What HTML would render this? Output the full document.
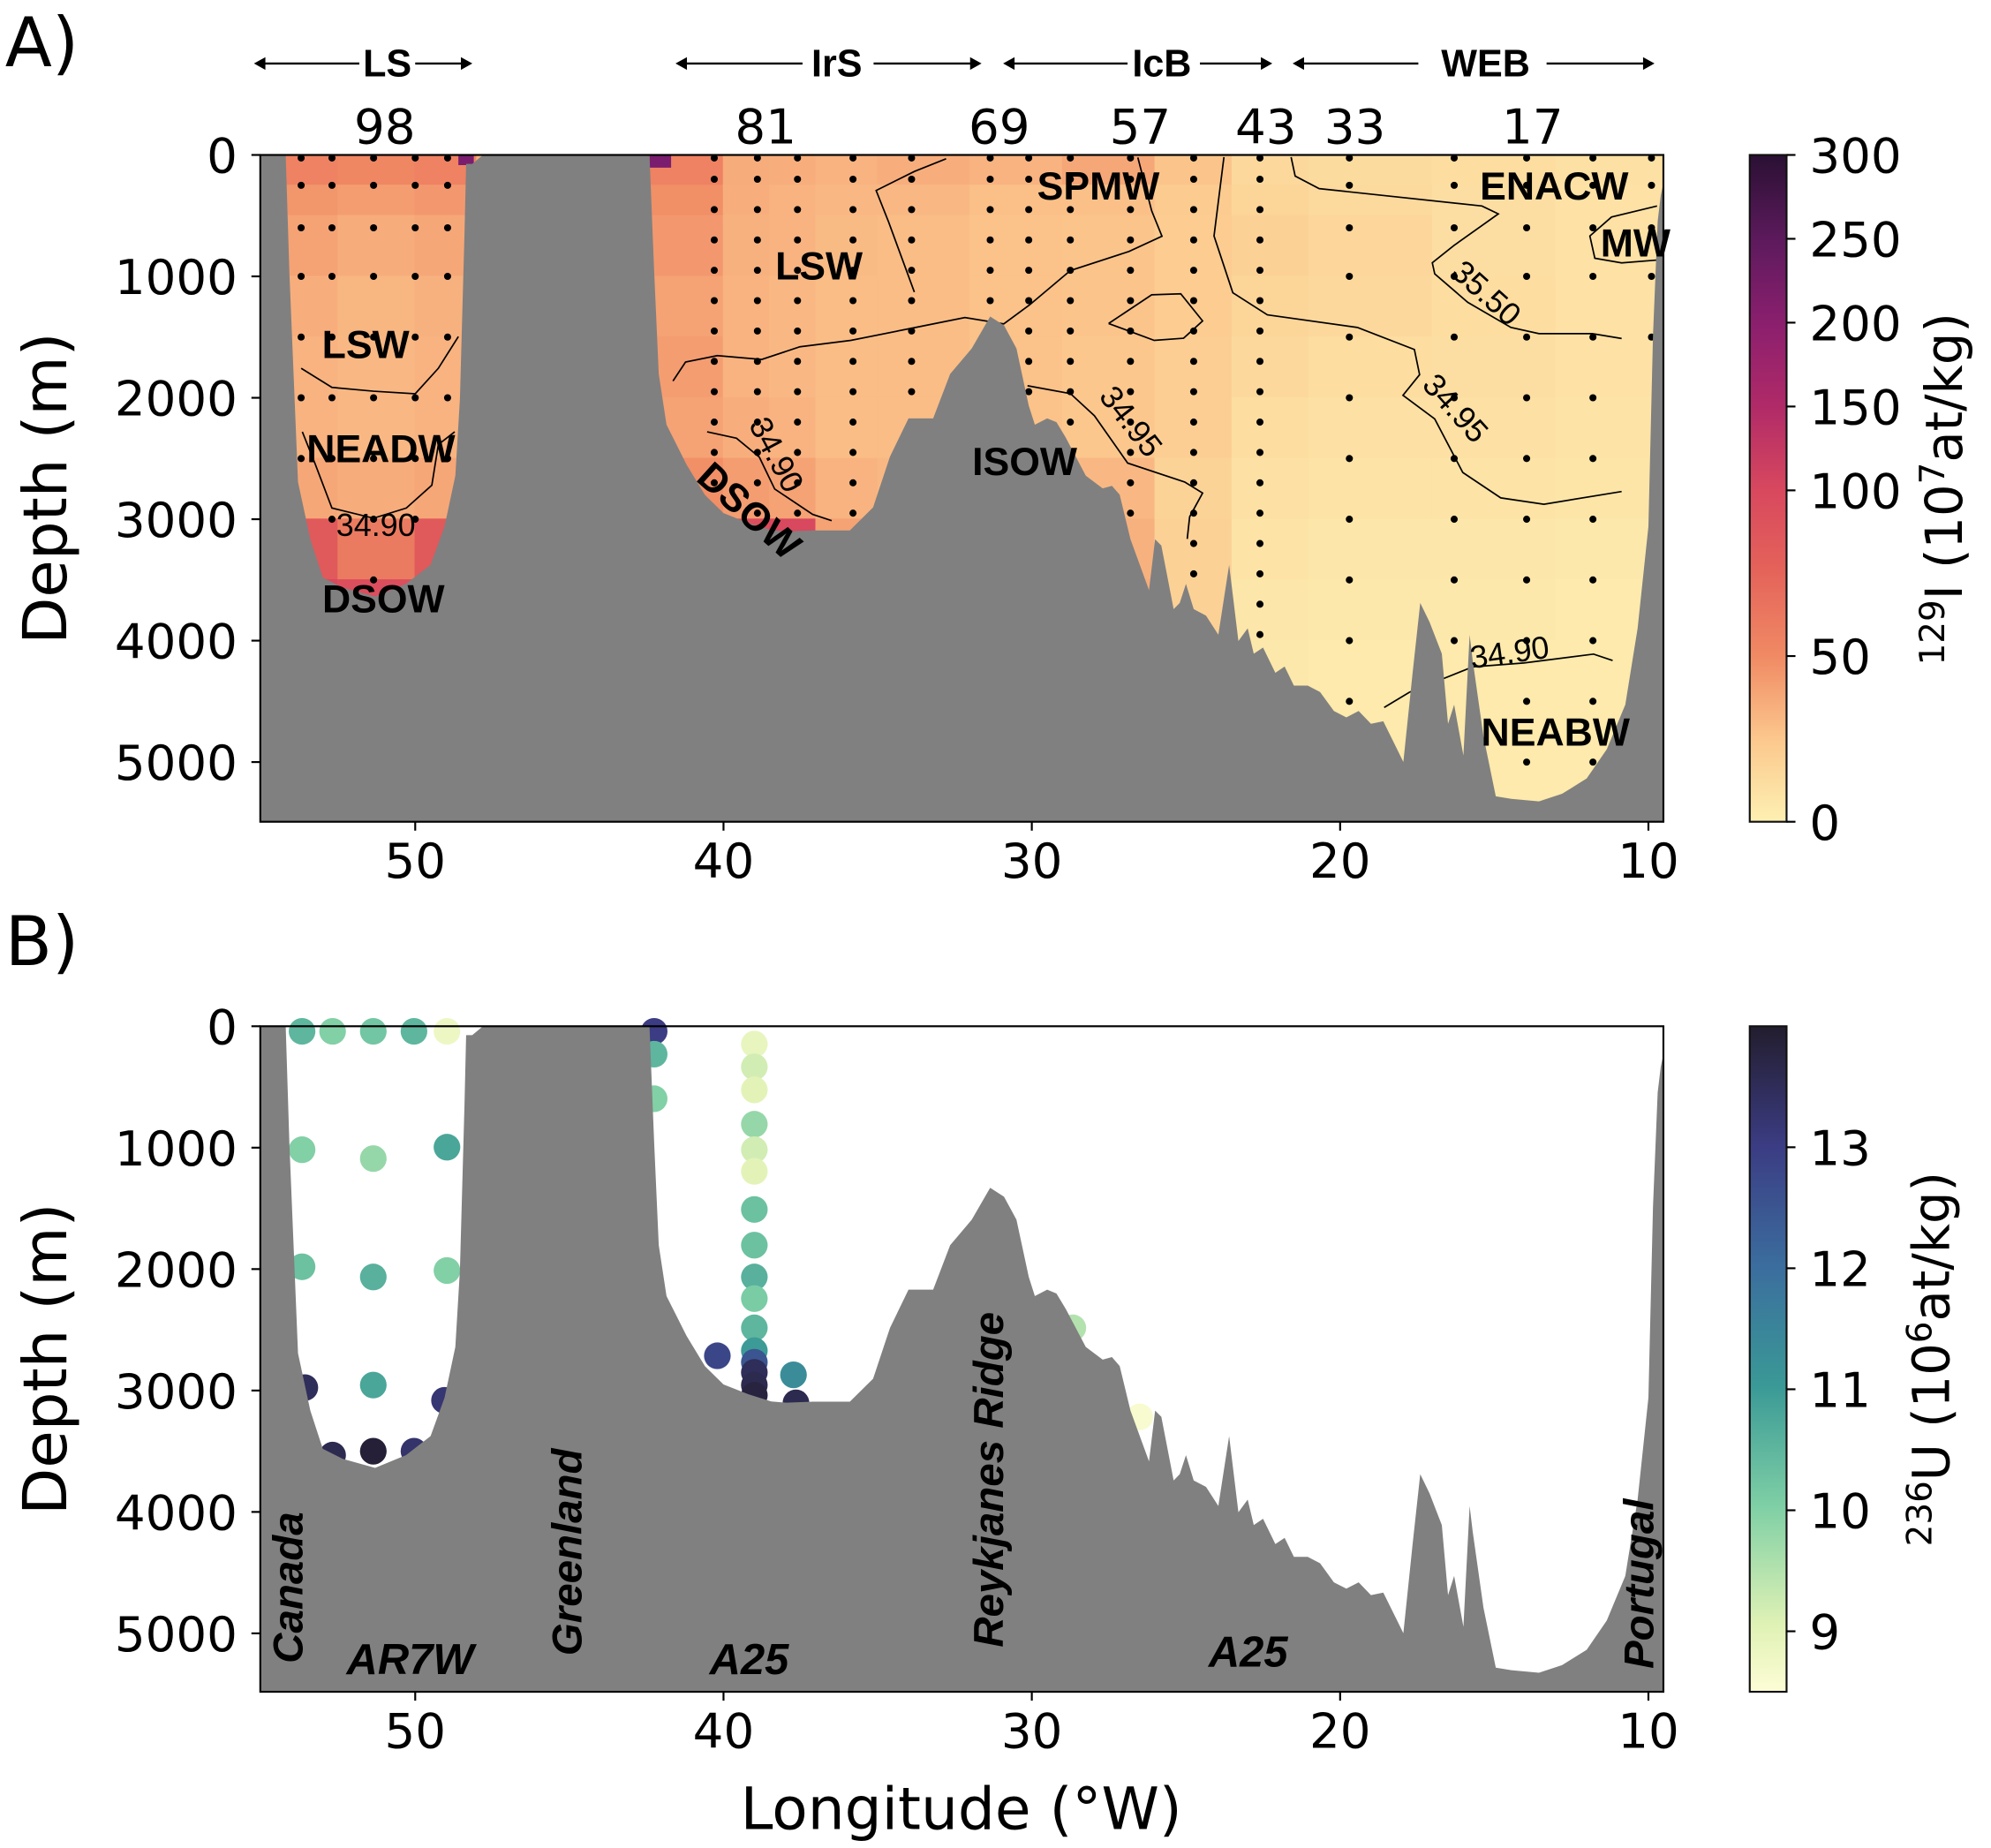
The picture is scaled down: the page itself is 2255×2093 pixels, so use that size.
<!DOCTYPE html>
<html><head><meta charset="utf-8"><style>
html,body{margin:0;padding:0;background:#fff;}
svg{display:block;}
text{font-family:"DejaVu Sans","Liberation Sans",sans-serif;}
.ar{font-family:"Liberation Sans",sans-serif;}
</style></head><body>
<svg id="fig" xmlns="http://www.w3.org/2000/svg" width="2255" height="2093" viewBox="0 0 1568 1455" preserveAspectRatio="none">
<defs>
<linearGradient id="gA" x1="0" y1="1" x2="0" y2="0">
<stop offset="0" stop-color="#fdf0b2"/><stop offset="0.12" stop-color="#fcc98e"/><stop offset="0.248" stop-color="#f08a64"/><stop offset="0.38" stop-color="#e4625a"/><stop offset="0.497" stop-color="#d8485e"/><stop offset="0.623" stop-color="#b02a68"/><stop offset="0.749" stop-color="#8a1f6e"/><stop offset="0.874" stop-color="#5c1a5c"/><stop offset="1" stop-color="#2a1033"/>
</linearGradient>
<linearGradient id="gB" x1="0" y1="1" x2="0" y2="0">
<stop offset="0" stop-color="#fdfdd5"/><stop offset="0.1" stop-color="#e0f2b5"/><stop offset="0.28" stop-color="#7ecfa5"/><stop offset="0.46" stop-color="#3a9996"/><stop offset="0.64" stop-color="#3b6d9e"/><stop offset="0.82" stop-color="#3b3c83"/><stop offset="1" stop-color="#231d2e"/>
</linearGradient>
</defs>
</svg>
<script>
// ---------- data ----------
const bathyLon=[55.2,55.0,54.2,54.08,53.8,53.4,53.0,52.35,51.3,50.3,49.5,49.05,48.7,48.55,48.4,48.35,48.15,47.8,42.45,42.4,42.25,42.1,41.85,41.2,40.6,40.0,39.2,38.45,37.95,37.1,35.9,35.15,34.6,34.0,33.2,32.65,31.95,31.35,30.9,30.5,30.1,29.9,29.5,29.2,28.9,28.25,27.7,27.4,27.15,26.8,26.2,26.0,25.8,25.4,25.2,25.0,24.75,24.35,23.95,23.6,23.3,23.0,22.8,22.5,22.1,21.8,21.5,21.05,20.65,20.2,19.8,19.4,19.0,18.6,18.15,17.95,17.65,17.4,17.1,16.7,16.5,16.3,16.0,15.8,15.7,15.35,14.95,14.45,13.55,12.8,12.0,11.35,10.75,10.35,10.0,9.85,9.7,9.6,9.5,9.3];
const bathyDepth=[0,0,0,964,2693,3165,3480,3563,3637,3532,3375,3060,2641,2012,650,73,73,0,0,0,964,1803,2222,2550,2800,2950,3030,3090,3100,3092,3092,2903,2484,2169,2169,1803,1593,1331,1404,1593,2065,2222,2169,2201,2327,2641,2746,2725,2798,3165,3584,3165,3217,3741,3689,3532,3741,3794,3951,3375,4003,3899,4108,4056,4265,4213,4370,4370,4423,4580,4632,4580,4685,4664,4894,4999,4265,3689,3846,4108,4685,4527,4947,3951,4161,4789,5282,5303,5324,5261,5135,4894,4527,3899,3060,1488,545,335,231,231];
const lonTicks=[50,40,30,20,10];
const depthTicks=[0,1000,2000,3000,4000,5000];
const cbATicks=[0,50,100,150,200,250,300];
const cbBTicks=[9,10,11,12,13];
// 129I grid
const gridLonEdges=[55,52.5,50,48,42.5,40,38.5,37,35,32,29,26,23.5,21,17,13,9.5];
const gridDepthEdges=[0,250,500,1000,1500,2000,2500,3000,3500,4000,4500,5000,5500];
const iodine=[
[55,45,40,35,33,33,38,85,100,100,100,100],
[52,42,36,32,31,31,36,60,95,100,100,100],
[55,44,38,34,33,33,38,85,100,100,100,100],
[35,35,35,35,35,35,35,35,35,35,35,35],
[55,48,44,40,42,40,48,95,110,110,110,110],
[36,35,34,33,33,35,42,95,110,110,110,110],
[35,33,33,31,31,33,40,100,110,110,110,110],
[33,31,30,29,29,29,33,40,40,40,40,40],
[35,31,29,29,29,29,31,36,36,36,36,36],
[33,28,27,27,27,27,31,36,36,36,36,36],
[38,28,26,26,25,25,31,34,36,36,36,36],
[26,23,22,22,21,21,18,19,19,18,18,18],
[15,17,19,17,15,12,10,8,6,5,5,5],
[13,14,16,15,12,10,8,6,5,4,4,4],
[12,11,11,12,11,10,8,6,5,4,4,4],
[10,9,9,9,9,8,7,5,4,4,4,4]];
const stnLons=[53.7,52.7,51.35,50,48.95,40.3,38.9,37.6,35.8,33.9,31.35,30.1,28.75,26.8,24.75,22.6,19.7,16.3,13.95,11.8,9.9];
const stnDense=[0,0,0,0,0,1,1,1,1,1,1,1,1,1,1,1,0,0,0,0,0];
const sparseDepths=[25,250,600,1000,1500,2000,2500,3000,3500,4000,4500,5000];
const denseDepths=[25,200,450,700,950,1200,1450,1700,1950,2200,2450,2700,2950,3200,3450,3700,3950,4200,4450,4700];
const contours=[
 {lon:[53.7,52.7,51.35,50,49.25,48.6],dep:[1757,1914,1946,1967,1757,1496]},
 {lon:[53.66,53.25,52.7,51.35,50.29,49.46,49.25,48.72],dep:[2280,2542,2908,2992,2908,2720,2385,2280]},
 {lon:[41.64,41.23,40.2,38.76,37.52,35.87,33.81,32.17,30.91,30.07,28.75,26.85,25.78,26.11,26.56],dep:[1862,1705,1653,1684,1579,1527,1423,1339,1391,1234,952,795,669,460,21]},
 {lon:[33.81,34.64,35.05,33.81,32.78],dep:[1130,554,293,136,31]},
 {lon:[40.53,39.58,38.84,38.34,37.11,36.49],dep:[2280,2333,2489,2751,2960,3012]},
 {lon:[23.77,24.09,23.48,22.36,19.44,17.59,17.42,17.96,16.93,16.02,14.79,13.39,10.87],dep:[18,667,1135,1317,1420,1602,1810,1979,2174,2615,2824,2877,2772]},
 {lon:[21.59,21.46,20.68,15.4,14.87,16.31,17.01,16.93,15.86,14.46,13.55,11.82,10.87],dep:[18,174,277,420,485,746,888,979,1213,1420,1472,1472,1511]},
 {lon:[30.14,28.75,27.97,26.89,25.04,24.46,24.88,24.96],dep:[1901,1966,2148,2538,2693,2784,2980,3162]},
 {lon:[9.72,11.2,11.9,11.74,10.87,9.64],dep:[420,511,667,850,889,864]},
 {lon:[27.51,26.11,25.17,24.46,25.08,26.03,27.51],dep:[1388,1152,1143,1367,1509,1527,1388]},
 {lon:[18.57,17.75,15.69,14.04,11.78,11.16],dep:[4550,4425,4215,4184,4111,4163]}];
// 236U samples
const uLon=[53.67,52.68,51.36,50.04,48.97,53.67,51.36,48.97,53.67,51.36,48.97,53.58,51.36,49.05,52.68,51.36,50.04,42.25,42.25,42.25,39.0,39.0,39.0,39.0,39.0,39.0,39.0,39.0,39.0,39.0,39.0,39.0,39.0,39.0,39.0,39.0,40.2,37.73,37.65,28.67,26.5];
const uDepth=[42,42,42,42,42,1017,1090,996,1981,2065,2012,2976,2955,3081,3532,3500,3500,42,230,597,147,335,524,807,1017,1195,1509,1803,2065,2243,2484,2672,2767,2851,2955,3039,2714,2871,3102,2484,3217];
const uVal=[10.5,10.0,10.2,10.5,8.8,10.0,9.8,10.8,10.3,10.6,10.0,13.5,10.8,13.2,13.6,13.9,13.3,13.0,10.5,10.0,8.9,9.2,9.0,9.8,9.2,9.0,10.3,10.3,10.6,10.1,10.5,11.0,12.5,13.5,13.6,13.8,12.8,11.3,13.6,9.5,8.6];

// ---------- helpers ----------
const NS='http://www.w3.org/2000/svg';
const svg=document.getElementById('fig');
function mk(tag,attrs,parent){const e=document.createElementNS(NS,tag);for(const k in attrs)e.setAttribute(k,attrs[k]);(parent||svg).appendChild(e);return e;}
const X0=205,X1=1310;
const xs=lon=>327+(50-lon)*24.28;
function ysFor(top){return d=>top+d*0.0956;}
function lerpHex(a,b,t){const pa=[1,3,5].map(i=>parseInt(a.substr(i,2),16)),pb=[1,3,5].map(i=>parseInt(b.substr(i,2),16));return 'rgb('+pa.map((v,i)=>Math.round(v+(pb[i]-v)*t)).join(',')+')';}
function cmap(stops,t){t=Math.max(0,Math.min(1,t));for(let i=1;i<stops.length;i++){if(t<=stops[i][0]){const f=(t-stops[i-1][0])/(stops[i][0]-stops[i-1][0]);return lerpHex(stops[i-1][1],stops[i][1],f);}}return stops[stops.length-1][1];}
const stopsA=[[0,'#fdf0b2'],[0.12,'#fcc98e'],[0.248,'#f08a64'],[0.38,'#e4625a'],[0.497,'#d8485e'],[0.623,'#b02a68'],[0.749,'#8a1f6e'],[0.874,'#5c1a5c'],[1,'#2a1033']];
const stopsB=[[0,'#fdfdd5'],[0.1,'#e0f2b5'],[0.28,'#7ecfa5'],[0.46,'#3a9996'],[0.64,'#3b6d9e'],[0.82,'#3b3c83'],[1,'#231d2e']];
const normA=v=>v<=100?v/100*0.497:0.497+(v-100)/200*0.503;
const normB=v=>(v-8.5)/(14-8.5);
function bathyPath(ys,bottom){let d='M'+X0+','+bottom;bathyLon.forEach((l,i)=>{d+=' L'+Math.max(X0,Math.min(X1,xs(l))).toFixed(1)+','+ys(bathyDepth[i]).toFixed(1);});d+=' L'+X1+','+bottom+' Z';return d;}
function txt(s,attrs,parent){const t=mk('text',attrs,parent);t.textContent=s;return t;}

function axes(top,bottom,g){
  const ys=ysFor(top);
  lonTicks.forEach(v=>{
    const l=mk('line',{x1:xs(v),x2:xs(v),y1:bottom,y2:bottom+7,stroke:'#000','stroke-width':1.5},g);
    
    const t=txt(String(v),{x:xs(v),y:bottom+44,'font-size':38,'text-anchor':'middle'},g);
    
  });
  depthTicks.forEach(v=>{
    const l=mk('line',{x1:X0-7,x2:X0,y1:ys(v),y2:ys(v),stroke:'#000','stroke-width':1.5},g);
    
    const t=txt(String(v),{x:X0-18,y:ys(v)+14,'font-size':38,'text-anchor':'end'},g);
    
  });
  const r=mk('rect',{x:X0,y:top,width:X1-X0,height:bottom-top,fill:'none',stroke:'#000','stroke-width':1.5},g);
  
  const yl=txt('Depth (m)',{x:0,y:0,'font-size':48,'text-anchor':'middle',transform:'translate(52,'+((top+bottom)/2)+') rotate(-90)'},g);
  
}

// ---------- Panel A ----------
(function(){
  const top=122,bottom=647,ys=ysFor(top);
  const g=mk('g',{});
  const cp=mk('clipPath',{id:'clipA'},g);
  mk('rect',{x:X0,y:top,width:X1-X0,height:bottom-top},cp);
  const hm=mk('g',{'clip-path':'url(#clipA)'},g);
  for(let c=0;c<iodine.length;c++)for(let r=0;r<iodine[c].length;r++){
    const xa=xs(gridLonEdges[c]),xb=xs(gridLonEdges[c+1]),ya=ys(gridDepthEdges[r]),yb=ys(gridDepthEdges[r+1]);
    const cell=mk('rect',{x:xa-0.5,y:ya-0.5,width:xb-xa+1,height:yb-ya+1,fill:cmap(stopsA,normA(iodine[c][r]))},hm);
    
  }
  const sp=mk('rect',{x:xs(48.6),y:top,width:xs(48.1)-xs(48.6),height:8,fill:'#7a1d6e'},hm);
  
  const sp2=mk('rect',{x:xs(42.4),y:top,width:xs(41.7)-xs(42.4),height:10,fill:'#7a1d6e'},hm);
  
  contours.forEach(c=>{
    const p=mk('polyline',{points:c.lon.map((l,i)=>xs(l).toFixed(1)+','+ys(c.dep[i]).toFixed(1)).join(' '),fill:'none',stroke:'#000','stroke-width':1.2},hm);
    
  });
  stnLons.forEach((l,i)=>{
    const deps=stnDense[i]?denseDepths:sparseDepths;
    let maxD=0;for(let k=0;k<bathyLon.length-1;k++){if(l<=bathyLon[k]&&l>=bathyLon[k+1]){const f=(bathyLon[k]-l)/(bathyLon[k]-bathyLon[k+1]);maxD=bathyDepth[k]+(bathyDepth[k+1]-bathyDepth[k])*f;}}
    deps.forEach(d=>{if(d<maxD-60){const c=mk('circle',{cx:xs(l),cy:ys(d),r:2.8,fill:'#000'},hm);}});
  });
  const bp=mk('path',{d:bathyPath(ys,bottom),fill:'#808080'},g);
  
  axes(top,bottom,g);
  const L=[['LSW',288,282,0],['NEADW',300,364,0],['DSOW',302,482,0],['LSW',645,220,0],['SPMW',865,157,0],['ISOW',807,374,0],['ENACW',1224,157,0],['MW',1288,202,0],['NEABW',1225,587,0]];
  L.forEach(a=>{const t=txt(a[0],{x:a[1],y:a[2],'font-size':31,'font-weight':'bold','text-anchor':'middle',class:'ar'},g);});
  const dr=txt('DSOW',{x:0,y:0,'font-size':31,'font-weight':'bold','text-anchor':'middle',class:'ar',transform:'translate(583,410) rotate(42)'},g);
  
  const CL=[['34.90',296,430,0],['34.90',604,370,62],['34.95',884,345,52],['35.50',1165,245,42],['34.95',1140,335,48],['34.90',1190,530,-8]];
  CL.forEach(a=>{const t=txt(a[0],{x:0,y:0,'font-size':25,'text-anchor':'middle',class:'ar',transform:'translate('+a[1]+','+(a[2]-8)+') rotate('+a[3]+')'},g);});
  const R=[['LS',305,200,372,283,327],['IrS',659,532,773,632,688],['IcB',915,790,1002,888,945],['WEB',1170,1018,1303,1117,1218]];
  R.forEach(a=>{
    const grp=mk('g',{},g);
    mk('line',{x1:a[2]+6,x2:a[4],y1:50,y2:50,stroke:'#000','stroke-width':1.6},grp);
    mk('line',{x1:a[5],x2:a[3]-6,y1:50,y2:50,stroke:'#000','stroke-width':1.6},grp);
    mk('path',{d:'M'+a[2]+',50 l9,-5 v10 z',fill:'#000'},grp);
    mk('path',{d:'M'+a[3]+',50 l-9,-5 v10 z',fill:'#000'},grp);
    txt(a[0],{x:a[1],y:60,'font-size':30,'font-weight':'bold','text-anchor':'middle',class:'ar'},grp);
  });
  [['98',303],['81',603],['69',787],['57',898],['43',997],['33',1067],['17',1207]].forEach(a=>{const t=txt(a[0],{x:a[1],y:113,'font-size':38,'text-anchor':'middle'},g);});
  const cb=mk('g',{},g);
  mk('rect',{x:1378,y:top,width:29,height:bottom-top,fill:'url(#gA)',stroke:'#111','stroke-width':1.5},cb);
  cbATicks.forEach(v=>{const y=bottom-normA(v)*(bottom-top);mk('line',{x1:1407,x2:1414,y1:y,y2:y,stroke:'#000','stroke-width':1.5},cb);const t=txt(String(v),{x:1425,y:y+14,'font-size':38},cb);});
  const cl=mk('text',{x:0,y:0,'font-size':40,'text-anchor':'middle',transform:'translate(1545,385) rotate(-90)'},cb);
  cl.innerHTML='<tspan font-size="27" dy="-14">129</tspan><tspan dy="14">I (10</tspan><tspan font-size="27" dy="-14">7</tspan><tspan dy="14">at/kg)</tspan>';
  
  const pl=txt('A)',{x:4,y:52,'font-size':54},g);
})();

// ---------- Panel B ----------
(function(){
  const top=808,bottom=1332,ys=ysFor(top);
  const g=mk('g',{});
  uLon.forEach((l,i)=>{const c=mk('circle',{cx:xs(l),cy:ys(uDepth[i]),r:10.5,fill:cmap(stopsB,normB(uVal[i]))},g);});
  const bp=mk('path',{d:bathyPath(ys,bottom),fill:'#808080'},g);
  
  axes(top,bottom,g);
  const V=[['Canada',238,1250],['Greenland',458,1222],['Reykjanes Ridge',790,1165],['Portugal',1302,1247]];
  V.forEach(a=>{const t=txt(a[0],{x:0,y:0,'font-size':33,'font-weight':'bold','font-style':'italic','text-anchor':'middle',class:'ar',transform:'translate('+a[1]+','+a[2]+') rotate(-90)'},g);});
  [['AR7W',323,1318],['A25',590,1318],['A25',983,1312]].forEach(a=>{const t=txt(a[0],{x:a[1],y:a[2],'font-size':34,'font-weight':'bold','font-style':'italic','text-anchor':'middle',class:'ar'},g);});
  const cb=mk('g',{},g);
  mk('rect',{x:1378,y:top,width:29,height:bottom-top,fill:'url(#gB)',stroke:'#111','stroke-width':1.5},cb);
  cbBTicks.forEach(v=>{const y=bottom-normB(v)*(bottom-top);mk('line',{x1:1407,x2:1414,y1:y,y2:y,stroke:'#000','stroke-width':1.5},cb);const t=txt(String(v),{x:1425,y:y+14,'font-size':38},cb);});
  const cl=mk('text',{x:0,y:0,'font-size':40,'text-anchor':'middle',transform:'translate(1535,1070) rotate(-90)'},cb);
  cl.innerHTML='<tspan font-size="27" dy="-14">236</tspan><tspan dy="14">U (10</tspan><tspan font-size="27" dy="-14">6</tspan><tspan dy="14">at/kg)</tspan>';
  
  const xl=txt('Longitude (°W)',{x:757,y:1440,'font-size':46,'text-anchor':'middle'},g);
  
  const pl=txt('B)',{x:4,y:760,'font-size':54},g);
})();
</script>
</body></html>
